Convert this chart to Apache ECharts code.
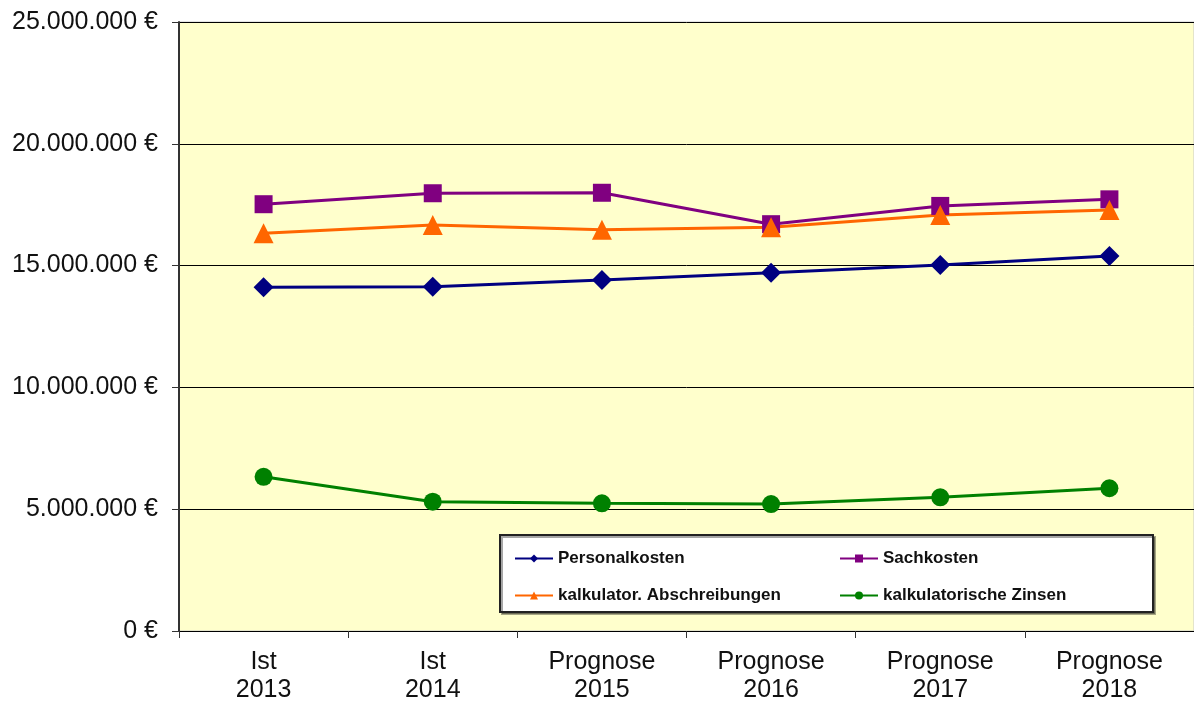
<!DOCTYPE html>
<html>
<head>
<meta charset="utf-8">
<script src="https://cdn.jsdelivr.net/npm/echarts@6/dist/echarts.min.js"></script>
<style>
html, body { margin: 0; padding: 0; background: #fff; }
#chart { width: 1194px; height: 704px; }
</style>
</head>
<body>
<div id="chart"></div>
<script>
var categories = ['Ist\n2013', 'Ist\n2014', 'Prognose\n2015', 'Prognose\n2016', 'Prognose\n2017', 'Prognose\n2018'];
var personalkosten = [14110000, 14130000, 14410000, 14710000, 15020000, 15390000];
var sachkosten = [17520000, 17970000, 17990000, 16700000, 17450000, 17720000];
var abschreibungen = [16330000, 16670000, 16470000, 16570000, 17080000, 17280000];
var zinsen = [6330000, 5310000, 5240000, 5210000, 5490000, 5860000];

var FONT = '"Liberation Sans", Arial, sans-serif';

function euro(v){
	var s = String(Math.round(v));
	return s.replace(/\B(?=(\d{3})+(?!\d))/g, '.') + ' €';
}

function makeSeries(name, data, color, symbol, size){
	return {
		name: name,
		type: 'line',
		data: data,
		symbol: symbol,
		symbolSize: size,
		itemStyle: { color: color },
		lineStyle: { color: color, width: 3 },
		emphasis: { disabled: true },
		animation: false
	};
}

var legendText = { fontFamily: FONT, fontSize: 17, fontWeight: 'bold', color: '#111' };

var chart = echarts.init(document.getElementById('chart'));
chart.setOption({
	animation: false,
	grid: {
		left: 179, top: 22, width: 1020, height: 609,
		show: true, backgroundColor: '#FFFFCC', borderColor: '#c8c8c8', borderWidth: 1
	},
	graphic: [{
		type: 'rect',
		shape: { x: 500, y: 535, width: 653, height: 77 },
		style: { fill: '#fff', stroke: '#222', lineWidth: 2, shadowColor: 'rgba(0,0,0,0.35)', shadowOffsetX: 2, shadowOffsetY: 2 },
		z: 5
	}],
	legend: [{
		orient: 'vertical', left: 509, top: 545, itemGap: 20,
		itemWidth: 38, itemHeight: 10,
		data: ['Personalkosten', 'kalkulator. Abschreibungen'],
		textStyle: legendText, z: 10
	}, {
		orient: 'vertical', left: 834, top: 545, itemGap: 20,
		itemWidth: 38, itemHeight: 10,
		data: ['Sachkosten', 'kalkulatorische Zinsen'],
		textStyle: legendText, z: 10
	}],
	xAxis: {
		type: 'category',
		data: categories,
		boundaryGap: true,
		axisLine: { lineStyle: { color: '#000', width: 1 } },
		axisTick: { show: true, length: 7, lineStyle: { color: '#333' } },
		axisLabel: { fontFamily: FONT, fontSize: 25, color: '#111', margin: 17, lineHeight: 28, interval: 0 }
	},
	yAxis: {
		type: 'value',
		min: 0, max: 25000000, interval: 5000000,
		axisLine: { show: true, lineStyle: { color: '#333', width: 2 } },
		axisTick: { show: true, length: 7, lineStyle: { color: '#333' } },
		splitLine: { lineStyle: { color: '#000', width: 1 } },
		axisLabel: { fontFamily: FONT, fontSize: 25, color: '#111', margin: 21, formatter: euro }
	},
	series: [
		makeSeries('Personalkosten', personalkosten, '#000080', 'diamond', 20),
		makeSeries('Sachkosten', sachkosten, '#800080', 'rect', 18),
		makeSeries('kalkulator. Abschreibungen', abschreibungen, '#FF6600', 'triangle', 20),
		makeSeries('kalkulatorische Zinsen', zinsen, '#008000', 'circle', 18)
	]
});
</script>
</body>
</html>
